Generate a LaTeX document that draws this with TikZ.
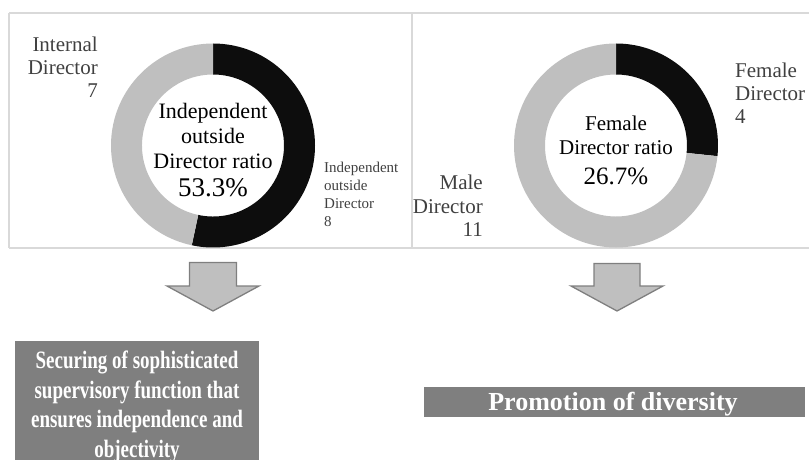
\documentclass[tikz,border=0pt]{standalone}
\usepackage{fontspec}
\setmainfont{Liberation Serif}
\definecolor{framec}{HTML}{D9D9D9}
\definecolor{segdark}{HTML}{0D0D0D}
\definecolor{seglight}{HTML}{BFBFBF}
\definecolor{labelc}{HTML}{404040}
\definecolor{boxc}{HTML}{7F7F7F}
\definecolor{arrowline}{HTML}{7F7F7F}
\tikzset{
  framel/.style={draw=framec, line width=1.8pt},
  darkseg/.style={fill=segdark},
  lightseg/.style={fill=seglight},
  outlabel/.style={inner sep=0pt, text=labelc},
  centerlabel/.style={inner sep=0pt, text=black, align=center},
  blockarrow/.style={fill=seglight, draw=arrowline, line width=1.3pt, line join=miter},
  resultbox/.style={fill=boxc},
  resulttext/.style={inner sep=0pt, text=white, align=center, font=\bfseries}
}
\begin{document}
\begin{tikzpicture}[x=1pt,y=1pt]
\useasboundingbox (0,0) rectangle (809,459);
% frame
\coordinate (ftl) at (9,446);
\coordinate (ftr) at (809,446);
\coordinate (fbl) at (9,211);
\coordinate (fbr) at (809,211);
\coordinate (fdt) at (412,446);
\coordinate (fdb) at (412,211);
\draw[framel] (ftl) -- (ftr);
\draw[framel] (fbl) -- (fbr);
\draw[framel] (ftl) -- (fbl);
\draw[framel] (fdt) -- (fdb);
% left donut
\coordinate (c1) at (213,313.5);
\fill[darkseg] (c1) ++(90:102) arc[start angle=90,end angle=-102,radius=102] -- ++(78:31) arc[start angle=-102,end angle=90,radius=71] -- cycle;
\fill[lightseg] (c1) ++(90:102) arc[start angle=90,end angle=258,radius=102] -- ++(78:31) arc[start angle=258,end angle=90,radius=71] -- cycle;
% right donut
\coordinate (c2) at (616,313.5);
\fill[darkseg] (c2) ++(90:102) arc[start angle=90,end angle=-6,radius=102] -- ++(174:31) arc[start angle=-6,end angle=90,radius=71] -- cycle;
\fill[lightseg] (c2) ++(90:102) arc[start angle=90,end angle=354,radius=102] -- ++(174:31) arc[start angle=354,end angle=90,radius=71] -- cycle;
% labels left (base anchor = baseline of last line)
\node[outlabel, anchor=base east, align=right, font=\fontsize{21}{23.5}\selectfont] (intl) at (98,361) {Internal\\Director\\7};
\node[centerlabel, anchor=base, font=\fontsize{22}{25}\selectfont] (indc) at (213,291) {Independent\\outside\\Director ratio};
\node[centerlabel, anchor=base, font=\fontsize{27}{28}\selectfont] (indp) at (213,263) {53.3\%};
\node[outlabel, anchor=base west, align=left, font=\fontsize{15}{18.1}\selectfont] (indl) at (324,232.5) {Independent\\outside\\Director\\8};
% labels right
\node[outlabel, anchor=base west, align=left, font=\fontsize{21}{23.5}\selectfont] (feml) at (735,335) {Female\\Director\\4};
\node[outlabel, anchor=base east, align=right, font=\fontsize{21}{23.5}\selectfont] (male) at (483,222.5) {Male\\Director\\11};
\node[centerlabel, anchor=base, font=\fontsize{21}{23.5}\selectfont] (femc) at (616,305) {Female\\Director ratio};
\node[centerlabel, anchor=base, font=\fontsize{25}{26}\selectfont] (femp) at (616,275) {26.7\%};
% block arrows
\draw[blockarrow] (189.5,196.5) -- (236.5,196.5) -- (236.5,173) -- (259,173) -- (213,148) -- (167,173) -- (189.5,173) -- cycle;
\draw[blockarrow] (594,195.5) -- (640,195.5) -- (640,173) -- (663,173) -- (617,148) -- (571,173) -- (594,173) -- cycle;
% result boxes
\fill[resultbox] (15,118) rectangle (259,-10);
\begin{scope}[shift={(137,2)}, xscale=0.76]
\node[resulttext, transform shape, anchor=base, font=\bfseries\fontsize{25}{29.5}\selectfont] (sec) at (0,0) {Securing of sophisticated\\supervisory function that\\ensures independence and\\objectivity};
\end{scope}
\fill[resultbox] (424,72.3) rectangle (805,42);
\node[resulttext, anchor=base, font=\bfseries\fontsize{26}{27}\selectfont] (div) at (613,49) {Promotion of diversity};
\end{tikzpicture}
\end{document}
